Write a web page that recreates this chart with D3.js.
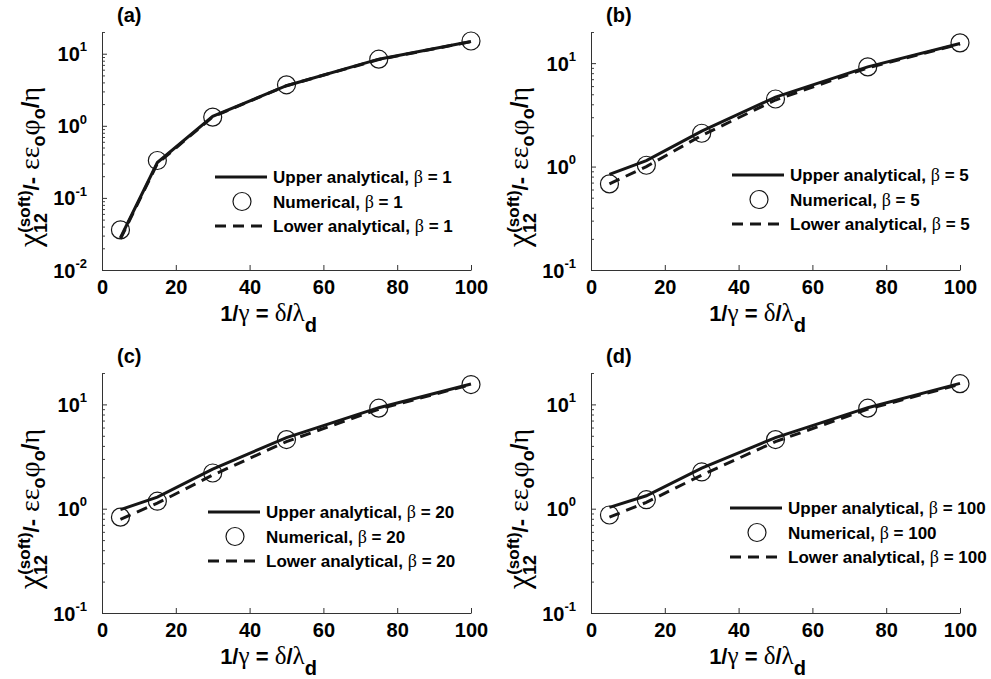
<!DOCTYPE html>
<html>
<head>
<meta charset="utf-8">
<script src="https://cdn.jsdelivr.net/npm/d3@7"></script>
<style>
  body { margin: 0; background: #fff; }
  svg { display: block; }
  text { font-family: "Liberation Sans", Arial, Helvetica, sans-serif; font-weight: bold; fill: #000; }
  .gk { font-family: "Liberation Serif", "DejaVu Serif", serif; font-weight: normal; }
</style>
</head>
<body>
<div class="box"></div>
<script>
// data
const xVals = [5, 15, 30, 50, 75, 100];
const xTicks = [0, 20, 40, 60, 80, 100];
const betas = [1, 5, 20, 100];
const panelLetters = ['(a)', '(b)', '(c)', '(d)'];
const yMins = [0.01, 0.1, 0.1, 0.1];
const yMax = 20;

const upperA = [0.028, 0.31, 1.35, 3.6, 8.4, 14.8];
const numA   = [0.036, 0.33, 1.32, 3.7, 8.4, 15.0];
const lowerA = [0.027, 0.30, 1.33, 3.6, 8.3, 14.7];

const upperB = [0.84, 1.14, 2.2, 4.7, 9.2, 15.5];
const numB   = [0.68, 1.03, 2.1, 4.5, 9.2, 15.7];
const lowerB = [0.68, 1.00, 2.0, 4.4, 9.0, 15.3];

const upperC = [0.98, 1.29, 2.4, 4.8, 9.3, 15.7];
const numC   = [0.83, 1.18, 2.2, 4.6, 9.2, 15.5];
const lowerC = [0.79, 1.13, 2.1, 4.4, 9.0, 15.5];

const upperD = [1.03, 1.33, 2.45, 4.8, 9.3, 15.9];
const numD   = [0.87, 1.22, 2.25, 4.6, 9.2, 15.8];
const lowerD = [0.83, 1.15, 2.1, 4.4, 9.0, 15.6];

const uppers = [upperA, upperB, upperC, upperD];
const nums = [numA, numB, numC, numD];
const lowers = [lowerA, lowerB, lowerC, lowerD];

// layout
const lefts = [102, 591, 102, 591];
const tops = [32, 32, 373, 373];
const heights = [238, 238, 240, 240];
const graphWidth = 369;
const ink = '#161616';
const dash = '11,7';

const svg = d3.select('.box')
              .append('svg')
              .attr('width', 991)
              .attr('height', 679);

betas.forEach((beta, i) => {
    const h = heights[i];
    const graph = svg.append('g')
                     .attr('transform', `translate(${lefts[i]}, ${tops[i]})`);

    const x = d3.scaleLinear().domain([0, 100]).range([0, graphWidth]);
    const y = d3.scaleLog().domain([yMins[i], yMax]).range([h, 0]);

    // minor log ticks
    const lo = Math.round(Math.log10(yMins[i]));
    const minor = [];
    const major = [];
    for (let d = lo; d <= 1; d++) {
        major.push(Math.pow(10, d));
        for (let k = 2; k <= 9; k++) {
            const v = k * Math.pow(10, d);
            if (v <= yMax) minor.push(v);
        }
    }

    const gMinor = graph.append('g')
         .call(d3.axisLeft(y).tickValues(minor).tickSize(-3).tickFormat(''));
    gMinor.select('.domain').remove();
    gMinor.selectAll('line').attr('stroke', '#444');

    const groupeY = graph.append('g')
         .call(d3.axisLeft(y).tickValues(major).tickSizeInner(-5).tickSizeOuter(0).tickPadding(15).tickFormat(''));
    groupeY.selectAll('.tick text').each(function(d) {
        const t = d3.select(this).attr('font-size', 20).attr('font-family', null).attr('dy', '0.35em');
        const e = Math.round(Math.log10(d));
        t.append('tspan').text('10');
        t.append('tspan').attr('font-size', 13).attr('dy', '-0.75em').text(String(e));
    });

    const groupeX = graph.append('g')
         .attr('transform', `translate(0, ${h})`)
         .call(d3.axisBottom(x).tickValues(xTicks).tickSizeInner(-5).tickSizeOuter(0).tickPadding(10));
    groupeX.selectAll('.tick text').attr('font-size', 20).attr('font-family', null);

    [groupeX, groupeY].forEach(g => {
        g.select('.domain').attr('stroke', '#333');
        g.selectAll('line').attr('stroke', '#333');
    });

    // curves
    const line = d3.line().x((d, k) => x(xVals[k])).y(d => y(d));
    graph.append('path')
         .attr('d', line(lowers[i]))
         .attr('fill', 'none').attr('stroke', ink)
         .attr('stroke-width', 3).attr('stroke-dasharray', dash);
    graph.append('path')
         .attr('d', line(uppers[i]))
         .attr('fill', 'none').attr('stroke', ink)
         .attr('stroke-width', 3);
    graph.selectAll('circle.num')
         .data(nums[i])
         .enter()
         .append('circle')
         .attr('class', 'num')
         .attr('cx', (d, k) => x(xVals[k]))
         .attr('cy', d => y(d))
         .attr('r', 9)
         .attr('fill', 'none')
         .attr('stroke', ink)
         .attr('stroke-width', 1.2);

    // panel letter
    graph.append('text')
         .attr('x', 15).attr('y', -10)
         .attr('font-size', 20)
         .text(panelLetters[i]);

    // x label
    const xl = graph.append('text')
         .attr('x', graphWidth / 2 - 18).attr('y', h + 51)
         .attr('text-anchor', 'middle')
         .attr('font-size', 22);
    xl.append('tspan').text('1/');
    xl.append('tspan').attr('class', 'gk').attr('font-size', 25).text('\u03B3');
    xl.append('tspan').text(' = ');
    xl.append('tspan').attr('class', 'gk').attr('font-size', 25).text('\u03B4');
    xl.append('tspan').text('/');
    xl.append('tspan').attr('class', 'gk').attr('font-size', 25).text('\u03BB');
    xl.append('tspan').attr('font-size', 20).attr('dy', 11).text('d');

    // y label
    const yl = graph.append('text')
         .attr('transform', `translate(-62, ${h / 2 + 16}) rotate(-90)`)
         .attr('text-anchor', 'middle')
         .attr('font-size', 22);
    yl.append('tspan').attr('class', 'gk').attr('font-size', 32).text('\u03C7');
    yl.append('tspan').attr('font-size', 18).attr('dy', 7).text('12');
    yl.append('tspan').attr('font-size', 17).attr('dx', -20).attr('dy', -17).text('(soft)');
    yl.append('tspan').attr('dy', 9).text('/-');
    yl.append('tspan').attr('class', 'gk').attr('font-size', 28).text(' \u03B5\u03B5');
    yl.append('tspan').attr('font-size', 18).attr('dy', 6).text('o');
    yl.append('tspan').attr('class', 'gk').attr('font-size', 28).attr('dy', -6).text('\u03C6');
    yl.append('tspan').attr('font-size', 18).attr('dy', 6).text('o');
    yl.append('tspan').attr('font-size', 24).attr('dy', -6).text('/');
    yl.append('tspan').attr('class', 'gk').attr('font-size', 28).text('\u03B7');

    // legend
    const legX = [113, 141, 106, 139][i];
    const legY = [145, 143, 139, 135][i];
    const rows = [
        {name: 'Upper analytical, ', kind: 'solid'},
        {name: 'Numerical, ', kind: 'circle'},
        {name: 'Lower analytical, ', kind: 'dash'}
    ];
    rows.forEach((r, k) => {
        const ry = legY + k * 24.5;
        if (r.kind === 'circle') {
            graph.append('circle')
                 .attr('cx', legX + 27).attr('cy', ry).attr('r', 9)
                 .attr('fill', 'none').attr('stroke', ink).attr('stroke-width', 1.2);
        } else {
            graph.append('line')
                 .attr('x1', legX).attr('x2', legX + 52)
                 .attr('y1', ry).attr('y2', ry)
                 .attr('stroke', ink).attr('stroke-width', 3)
                 .attr('stroke-dasharray', r.kind === 'dash' ? dash : null);
        }
        const t = graph.append('text')
             .attr('x', legX + 58).attr('y', ry + 6)
             .attr('font-size', 17);
        t.append('tspan').text(r.name);
        t.append('tspan').attr('class', 'gk').attr('font-size', 18).text('\u03B2');
        t.append('tspan').text(' = ' + beta);
    });
});
</script>
</body>
</html>
